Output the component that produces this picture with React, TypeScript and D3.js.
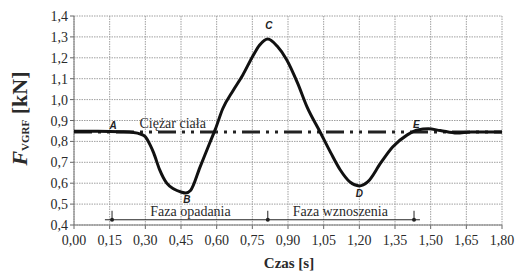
import React from 'react';
import * as d3 from 'd3';

// curve samples (time in s, force in kN)
const TIME = [0, 0.1, 0.2, 0.25, 0.28, 0.3, 0.32, 0.335, 0.36, 0.39, 0.42, 0.45, 0.47, 0.49, 0.53, 0.57, 0.595, 0.625, 0.67, 0.71, 0.75, 0.78, 0.815, 0.855, 0.895, 0.94, 0.98, 1.035, 1.08, 1.12, 1.16, 1.2, 1.235, 1.29, 1.34, 1.4, 1.445, 1.49, 1.54, 1.61, 1.67, 1.8];
const FORCE = [0.848, 0.848, 0.846, 0.843, 0.835, 0.822, 0.783, 0.745, 0.665, 0.6, 0.572, 0.558, 0.553, 0.565, 0.677, 0.79, 0.86, 0.955, 1.045, 1.118, 1.204, 1.26, 1.29, 1.255, 1.19, 1.08, 0.965, 0.845, 0.745, 0.663, 0.606, 0.587, 0.606, 0.697, 0.773, 0.83, 0.855, 0.86, 0.852, 0.84, 0.845, 0.845];

const BODY_WEIGHT = 0.845;
const X_TICKS = [0, 0.15, 0.3, 0.45, 0.6, 0.75, 0.9, 1.05, 1.2, 1.35, 1.5, 1.65, 1.8];
const Y_TICKS = [0.4, 0.5, 0.6, 0.7, 0.8, 0.9, 1.0, 1.1, 1.2, 1.3, 1.4];

// phase markers
const PHASE_Y = 0.425;
const PHASE_RANGE = [0.13, 1.455];
const PHASE_MARKS = [0.16, 0.815, 1.43];
const PHASE_LABELS = [
  { text: 'Faza opadania', t: 0.49 },
  { text: 'Faza wznoszenia', t: 1.12 },
];

// point labels
const POINTS = [
  { name: 'A', t: 0.165, v: 0.86 },
  { name: 'B', t: 0.475, v: 0.505 },
  { name: 'C', t: 0.82, v: 1.34 },
  { name: 'D', t: 1.2, v: 0.535 },
  { name: 'E', t: 1.44, v: 0.865 },
];

const fmt = (d: number, n: number) => d.toFixed(n).replace('.', ',');

const serif = { fontFamily: "'Liberation Serif', 'Times New Roman', serif" };
const sans = { fontFamily: "'Liberation Sans', Arial, sans-serif" };

export default function App() {
  const width = 517, height = 272;
  const margin = { top: 16, right: 15, bottom: 47, left: 74 };

  const x = d3.scaleLinear().domain([0, 1.8]).range([margin.left, width - margin.right]);
  const y = d3.scaleLinear().domain([0.4, 1.4]).range([height - margin.bottom, margin.top]);

  const line = d3
    .line<number>()
    .x((_, i) => x(TIME[i]))
    .y(d => y(d))
    .curve(d3.curveMonotoneX);

  const yBot = y(0.4), yTop = y(1.4);

  return (
    <svg width={width} height={height} style={{ position: 'absolute', left: 0, top: 0, background: '#fff' }}>
      {/* grid */}
      {X_TICKS.map(t => (
        <g key={'x' + t}>
          <line x1={x(t)} x2={x(t)} y1={yTop} y2={yBot} stroke="#a0a0a0" strokeWidth={1} strokeDasharray="1.5,1" />
          <line x1={x(t)} x2={x(t)} y1={yBot} y2={yBot + 4} stroke="#666" strokeWidth={1} />
          <text x={x(t)} y={yBot + 20} textAnchor="middle" style={serif} fontSize={14} fill="#2a2a2a">
            {fmt(t, 2)}
          </text>
        </g>
      ))}
      {Y_TICKS.map(v => (
        <g key={'y' + v}>
          <line x1={x(0)} x2={x(1.8)} y1={y(v)} y2={y(v)} stroke="#a0a0a0" strokeWidth={1} strokeDasharray="1.5,1" />
          <line x1={x(0) - 4} x2={x(0)} y1={y(v)} y2={y(v)} stroke="#666" strokeWidth={1} />
          <text x={x(0) - 6} y={y(v) + 5} textAnchor="end" style={serif} fontSize={14} fill="#2a2a2a">
            {fmt(v, 1)}
          </text>
        </g>
      ))}
      <line x1={x(0)} x2={x(0)} y1={yTop} y2={yBot} stroke="#777" strokeWidth={1} />
      <line x1={x(0)} x2={x(1.8)} y1={yBot} y2={yBot} stroke="#777" strokeWidth={1} />

      {/* body weight */}
      <line x1={x(0)} x2={x(1.8)} y1={y(BODY_WEIGHT)} y2={y(BODY_WEIGHT)} stroke="#222" strokeWidth={3}
        strokeDasharray="18,6,3,6,3,6" />
      <text x={x(0.415)} y={y(BODY_WEIGHT) - 4} textAnchor="middle" style={serif} fontSize={14} fill="#2a2a2a">
        Ciężar ciała
      </text>

      {/* force curve */}
      <path d={line(FORCE) || ''} fill="none" stroke="#111" strokeWidth={3} strokeLinejoin="round" />

      {/* phases */}
      <line x1={x(PHASE_RANGE[0])} x2={x(PHASE_RANGE[1])} y1={y(PHASE_Y)} y2={y(PHASE_Y)} stroke="#222" strokeWidth={1} />
      {PHASE_MARKS.map(t => (
        <g key={'m' + t}>
          <line x1={x(t)} x2={x(t)} y1={y(PHASE_Y) - 9} y2={y(PHASE_Y)} stroke="#222" strokeWidth={1} />
          <circle cx={x(t)} cy={y(PHASE_Y)} r={2} fill="#222" />
        </g>
      ))}
      {PHASE_LABELS.map(p => (
        <text key={p.text} x={x(p.t)} y={y(PHASE_Y) - 4} textAnchor="middle" style={serif} fontSize={14} fill="#2a2a2a">
          {p.text}
        </text>
      ))}

      {/* points */}
      {POINTS.map(p => (
        <text key={p.name} x={x(p.t)} y={y(p.v)} textAnchor="middle" style={sans} fontSize={10}
          fontStyle="italic" fontWeight="bold" fill="#222">
          {p.name}
        </text>
      ))}

      {/* axis titles */}
      <text x={(x(0) + x(1.8)) / 2 + 1} y={height - 4} textAnchor="middle" style={serif} fontSize={15}
        fontWeight="bold" fill="#2a2a2a">
        Czas [s]
      </text>
      <text transform={`translate(27,${(yTop + yBot) / 2 - 2}) rotate(-90)`} textAnchor="middle" style={serif}
        fontWeight="bold" fill="#2a2a2a">
        <tspan fontSize={22} fontStyle="italic">F</tspan>
        <tspan fontSize={11} dy={2}>VGRF</tspan>
        <tspan fontSize={22} dy={-2}>{'  [kN]'}</tspan>
      </text>
    </svg>
  );
}
